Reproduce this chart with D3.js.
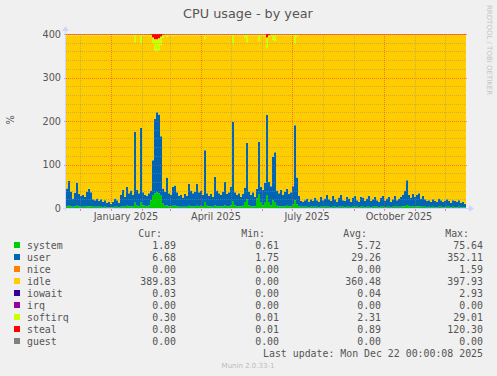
<!DOCTYPE html>
<html>
<head>
<meta charset="utf-8">
<script src="https://cdn.jsdelivr.net/npm/d3@7"></script>
<style>
body { margin: 0; background: #F0F0F0; }
svg { display: block; font-family: "DejaVu Sans", sans-serif; }
.mono { font-family: "DejaVu Sans Mono", monospace; }
</style>
</head>
<body>
<div id="chart"></div>
<script>
// munin "cpu" graph, year view: 400 days, one value every 2 days
var startDate = new Date(Date.UTC(2024, 10, 17))
var endDate = new Date(Date.UTC(2025, 11, 22))
var binDays = 2

var system = [
	4,5,4,3,4,5,4,3,3,3, 4,4,4,3,3,3,3,3,2,3, 2,2,2,2,3,3,2,3,4,3, 5,4,4,4,12,5,4,14,6,5,
	4,6,18,30,34,36,34,28,10,5, 6,4,4,5,5,4,3,3,3,3, 3,5,4,4,4,5,4,5,4,14, 5,4,4,3,6,4,4,4,4,6,
	4,4,6,16,6,4,4,4,5,14, 20,6,4,4,4,22,32,14,6,12, 30,14,6,18,12,5,4,4,4,4, 5,4,4,8,18,8,4,3,3,3,
	3,2,3,3,3,3,2,3,3,3, 3,3,2,3,3,2,3,3,3,2, 3,3,2,3,3,3,2,3,3,2, 3,3,2,3,3,3,2,3,3,2,
	3,3,2,3,3,3,3,3,4,4, 7,4,3,4,3,4,4,3,3,3, 2,3,2,3,2,2,3,3,2,2, 3,3,2,3,2,2,3,2,2,2
]
var user = [
	41,57,34,19,31,53,28,25,27,23, 34,40,32,17,15,19,13,17,12,15, 10,13,8,12,19,15,10,27,38,23, 43,30,36,26,163,37,30,170,30,25,
	24,28,22,80,171,184,181,137,35,33, 64,30,26,43,47,32,25,27,21,29, 25,51,36,30,34,50,32,35,26,119, 29,24,28,23,66,36,30,26,34,54,
	28,32,42,182,30,26,30,22,27,32, 130,32,26,32,22,22,120,34,36,46, 184,46,44,100,116,35,30,38,26,34, 39,28,32,42,172,62,24,13,11,15,
	19,12,17,13,21,15,12,23,15,19, 27,17,14,25,17,12,21,27,15,14, 23,19,12,21,25,15,12,23,21,14, 19,25,14,17,23,15,12,21,25,14,
	19,23,12,17,25,15,19,23,26,36, 57,26,21,28,23,26,30,19,25,17, 14,15,12,17,14,12,19,15,12,14, 17,13,10,15,14,12,15,10,12,8
]
var idle = [
	352,335,359,375,362,339,365,369,367,371, 359,353,361,377,379,375,381,377,383,379, 385,382,387,383,375,379,385,367,355,371, 349,363,357,367,207,355,363,195,361,367,
	369,363,353,267,157,139,149,211,347,359, 324,363,367,347,345,361,369,367,373,365, 369,341,357,363,359,342,361,357,367,256, 363,369,365,371,325,357,363,367,359,337,
	365,361,349,181,361,367,363,371,365,345, 232,359,367,361,371,353,233,349,355,339, 154,331,347,269,257,357,363,355,367,359, 353,365,361,347,189,325,369,382,384,380,
	376,384,378,382,374,380,384,372,380,376, 368,378,382,370,378,384,374,368,380,382, 372,376,384,374,370,380,384,372,374,382, 376,370,382,378,372,380,384,374,370,382,
	376,372,384,378,370,380,376,372,368,358, 334,368,374,366,372,368,364,376,370,378, 382,380,384,378,382,384,376,380,384,382, 378,382,386,380,382,384,380,386,384,388
]
var softirq = [
	2,2,2,2,2,2,2,2,2,2, 2,2,2,2,2,2,2,2,2,2, 2,2,2,2,2,2,2,2,2,2, 2,2,2,2,17,2,2,20,2,2,
	2,2,5,15,26,29,26,18,6,2, 5,2,2,4,2,2,2,2,2,2, 2,2,2,2,2,2,2,2,2,10, 2,2,2,2,2,2,2,2,2,2,
	2,2,2,20,2,2,2,2,2,8, 17,2,2,2,2,2,14,2,2,2, 24,6,2,12,14,2,2,2,2,2, 2,2,2,2,20,4,2,1,1,1,
	1,1,1,1,1,1,1,1,1,1, 1,1,1,1,1,1,1,1,1,1, 1,1,1,1,1,1,1,1,1,1, 1,1,1,1,1,1,1,1,1,1,
	1,1,1,1,1,1,1,1,1,1, 1,1,1,1,1,1,1,1,1,1, 1,1,1,1,1,1,1,1,1,1, 1,1,1,1,1,1,1,1,1,1
]
var steal = [
	1,1,1,1,1,1,1,1,1,1, 1,1,1,1,1,1,1,1,1,1, 1,1,1,1,1,1,1,1,1,1, 1,1,1,1,1,1,1,1,1,1,
	1,1,2,8,12,12,10,6,2,1, 1,1,1,1,1,1,1,1,1,1, 1,1,1,1,1,1,1,1,1,1, 1,1,1,1,1,1,1,1,1,1,
	1,1,1,1,1,1,1,1,1,1, 1,1,1,1,1,1,1,1,1,1, 8,3,1,1,1,1,1,1,1,1, 1,1,1,1,1,1,1,1,1,1,
	1,1,1,1,1,1,1,1,1,1, 1,1,1,1,1,1,1,1,1,1, 1,1,1,1,1,1,1,1,1,1, 1,1,1,1,1,1,1,1,1,1,
	1,1,1,1,1,1,1,1,1,1, 1,1,1,1,1,1,1,1,1,1, 1,1,1,1,1,1,1,1,1,1, 1,1,1,1,1,1,1,1,1,1
]

var legendNames = ['system', 'user', 'nice', 'idle', 'iowait', 'irq', 'softirq', 'steal', 'guest']
var legendColors = ['#00CC00', '#0066B3', '#FF8000', '#FFCC00', '#330099', '#990099', '#CCFF00', '#FF0000', '#808080']
var legendCur = ['1.89', '6.68', '0.00', '389.83', '0.03', '0.00', '0.30', '0.08', '0.00']
var legendMin = ['0.61', '1.75', '0.00', '0.00', '0.00', '0.00', '0.01', '0.01', '0.00']
var legendAvg = ['5.72', '29.26', '0.00', '360.48', '0.04', '0.00', '2.31', '0.89', '0.00']
var legendMax = ['75.64', '352.11', '1.59', '397.93', '2.93', '0.00', '29.01', '120.30', '0.00']
var yTicks = [0, 100, 200, 300, 400]

var W = 497, H = 376
var fontColor = '#555'
var axisColor = '#CFD6F8'
var minorGrid = 'rgba(139,139,139,0.45)'
var majorGrid = 'rgba(240,60,60,0.6)'

var svg = d3.select('#chart').append('svg').attr('width', W).attr('height', H)
svg.append('rect').attr('width', W).attr('height', H).attr('fill', '#F0F0F0')

var x = d3.scaleUtc().domain([startDate, endDate]).range([66, 466])
var y = d3.scaleLinear().domain([0, 400]).range([208, 34])

// build rows, last bin stretched to the end date
var rows = system.map(function (v, i) {
	return {date: d3.utcDay.offset(startDate, i * binDays), system: v, user: user[i], idle: idle[i], softirq: softirq[i], steal: steal[i]}
})
rows.push(Object.assign({}, rows[rows.length - 1], {date: endDate}))

var keys = ['system', 'user', 'idle', 'softirq', 'steal']
var colorOf = {}
legendNames.forEach(function (n, i) { colorOf[n] = legendColors[i] })

var stacked = d3.stack().keys(keys)(rows)
var area = d3.area()
	.curve(d3.curveStepAfter)
	.x(function (d) { return x(d.data.date) })
	.y0(function (d) { return y(d[0]) })
	.y1(function (d) { return y(d[1]) })

svg.append('rect').attr('x', 66).attr('y', 34).attr('width', 400).attr('height', 174).attr('fill', '#fff')
svg.append('g').selectAll('path').data(stacked).enter().append('path')
	.attr('d', area)
	.attr('fill', function (d) { return colorOf[d.key] })

// grid on top of the areas
var grid = svg.append('g').attr('stroke-width', 1).attr('stroke-dasharray', '1,1')
y.ticks(20).forEach(function (t) {
	if (t == 0) return
	var major = t % 100 == 0
	grid.append('line')
		.attr('x1', major ? 64 : 66).attr('x2', major ? 468 : 466)
		.attr('y1', Math.round(y(t)) + 0.5).attr('y2', Math.round(y(t)) + 0.5)
		.attr('stroke', major ? majorGrid : minorGrid)
})
d3.utcMonth.range(d3.utcMonth.ceil(startDate), endDate).forEach(function (m) {
	var major = m.getUTCMonth() % 3 == 0
	var px = Math.round(x(m)) + 0.5
	grid.append('line')
		.attr('x1', px).attr('x2', px).attr('y1', 34).attr('y2', 208)
		.attr('stroke', major ? majorGrid : minorGrid)
	svg.append('line').attr('x1', px).attr('x2', px).attr('y1', 208).attr('y2', 211)
		.attr('stroke', majorGrid)
})

// axes with arrows
svg.append('line').attr('x1', 63).attr('x2', 470).attr('y1', 208.5).attr('y2', 208.5).attr('stroke', axisColor)
svg.append('line').attr('x1', 65.5).attr('x2', 65.5).attr('y1', 211).attr('y2', 30).attr('stroke', axisColor)
svg.append('path').attr('d', 'M469,205L474,208.5L469,212Z').attr('fill', axisColor)
svg.append('path').attr('d', 'M62,31L65.5,26L69,31Z').attr('fill', axisColor)

// tick labels
svg.append('g').selectAll('text').data(yTicks).enter().append('text')
	.attr('x', 61).attr('y', function (d) { return y(d) + 3.6 })
	.attr('text-anchor', 'end').attr('font-size', '9.7px').attr('fill', fontColor)
	.text(function (d) { return d })

var fmt = d3.utcFormat('%B %Y')
svg.append('g').selectAll('text').data(d3.utcMonth.every(3).range(d3.utcMonth.ceil(startDate), endDate)).enter().append('text')
	.attr('x', function (d) { return x(d3.utcDay.offset(d, 15)) }).attr('y', 220)
	.attr('text-anchor', 'middle').attr('font-size', '9.7px').attr('fill', fontColor)
	.text(function (d) { return fmt(d) })

// titles
svg.append('text').attr('x', 248).attr('y', 18).attr('text-anchor', 'middle')
	.attr('font-size', '12.8px').attr('fill', fontColor).text('CPU usage - by year')
svg.append('text').attr('transform', 'translate(14,120) rotate(-90)').attr('text-anchor', 'middle')
	.attr('font-size', '9.7px').attr('fill', fontColor).text('%')
svg.append('text').attr('transform', 'translate(487,5) rotate(90)')
	.attr('font-size', '7px').attr('fill', '#c4c4c4').text('RRDTOOL / TOBI OETIKER')

// legend
var colEnds = [176, 279, 381, 483]
var heads = ['Cur:', 'Min:', 'Avg:', 'Max:']
var leg = svg.append('g').attr('class', 'mono').attr('font-size', '9.9px').attr('fill', fontColor)
heads.forEach(function (h, j) {
	leg.append('text').attr('x', colEnds[j] - 14).attr('y', 237).attr('text-anchor', 'end').text(h)
})
var cols = [legendCur, legendMin, legendAvg, legendMax]
legendNames.forEach(function (n, i) {
	var by = 249 + i * 12
	leg.append('rect').attr('x', 14).attr('y', by - 7).attr('width', 6).attr('height', 6).attr('fill', legendColors[i])
	leg.append('text').attr('x', 27).attr('y', by).text(n)
	cols.forEach(function (c, j) {
		leg.append('text').attr('x', colEnds[j]).attr('y', by).attr('text-anchor', 'end').text(c[i])
	})
})
leg.append('text').attr('x', 483).attr('y', 357).attr('text-anchor', 'end').text('Last update: Mon Dec 22 00:00:08 2025')
svg.append('text').attr('x', 248).attr('y', 368).attr('text-anchor', 'middle')
	.attr('font-size', '7px').attr('fill', '#bbb').text('Munin 2.0.33-1')
</script>
</body>
</html>
